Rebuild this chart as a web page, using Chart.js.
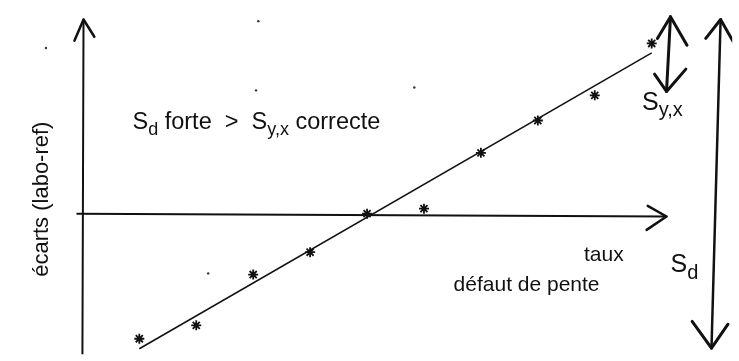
<!DOCTYPE html>
<html>
<head>
<meta charset="utf-8">
<script src="https://cdn.jsdelivr.net/npm/chart.js@4"></script>
<style>
  html, body { margin: 0; padding: 0; background: #fff; }
  #wrap { width: 739px; height: 361px; }
</style>
</head>
<body>
<div id="wrap"><canvas id="c" width="739" height="361"></canvas></div>
<script>
// ---- data ----
const taux = [1, 2, 3, 4, 5, 6, 7, 8, 9, 10];
const ecarts = [-2.24, -2.00, -1.09, -0.69, 0.00, 0.09, 1.09, 1.67, 2.12, 3.05];
const fitX = [1.0, 10.0];
const fitY = [-2.42, 2.88];
const specksX = [-0.64, 3.09, 3.05, 5.83, 2.21];
const specksY = [2.97, 3.45, 2.21, 2.26, -1.07];
const yAxisTitle = 'écarts (labo-ref)';
const xAxisTitle = 'taux';
const captionTop = [['S', false], ['d', true], [' forte  >  ', false], ['S', false], ['y,x', true], [' correcte', false]];
const captionBottom = 'défaut de pente';
const labelSyx = [['S', false], ['y,x', true]];
const labelSd = [['S', false], ['d', true]];

// ---- drawing helpers (geometry in data units) ----
const INK = '#111';
const pts = (xs, ys) => xs.map((x, i) => ({ x, y: ys[i] }));
const seg = (coords, width) => ({
  type: 'line', data: coords.map(c => ({ x: c[0], y: c[1] })),
  borderColor: INK, borderWidth: width, pointRadius: 0, showLine: true,
  fill: false, tension: 0, borderCapStyle: 'round', borderJoinStyle: 'round'
});

const datasets = [
  // axes with arrowheads
  seg([[0, -2.7], [0.02, 3.48]], 2),
  seg([[-0.14, 3.1], [0.02, 3.48], [0.21, 3.17]], 2.5),
  seg([[-0.09, 0], [10.26, -0.05]], 2),
  seg([[9.93, 0.14], [10.26, -0.05], [9.91, -0.29]], 2.5),
  // S y,x double arrow
  seg([[10.33, 3.53], [10.26, 2.19]], 3),
  seg([[10.10, 3.14], [10.33, 3.53], [10.62, 3.02]], 3),
  seg([[10.05, 2.5], [10.26, 2.19], [10.60, 2.59]], 3),
  // S d double arrow
  seg([[11.21, 3.48], [11.05, -2.41]], 2.5),
  seg([[10.95, 3.14], [11.21, 3.48], [11.45, 3.05]], 3),
  seg([[10.71, -1.93], [11.05, -2.41], [11.34, -1.98]], 3),
  // fitted line
  { type: 'line', data: pts(fitX, fitY), borderColor: INK, borderWidth: 1.5, pointRadius: 0, showLine: true, fill: false },
  // observations
  { type: 'scatter', data: pts(taux, ecarts), pointStyle: 'star', pointRadius: 5, borderColor: INK, borderWidth: 1.8, backgroundColor: INK },
  // scan specks
  { type: 'scatter', data: pts(specksX, specksY), pointStyle: 'circle', pointRadius: 1.2, borderWidth: 0, backgroundColor: '#333' }
];

const FONT = '"Liberation Sans", Arial, sans-serif';
function drawRuns(ctx, runs, x, y, size, subScale) {
  let cx = x;
  for (const [t, sub] of runs) {
    const s = sub ? Math.round(size * subScale) : size;
    ctx.font = s + 'px ' + FONT;
    ctx.fillText(t, cx, sub ? y + size * 0.25 : y);
    cx += ctx.measureText(t).width;
  }
}

const textPlugin = {
  id: 'texts',
  afterDatasetsDraw(chart) {
    const { ctx, scales: { x, y } } = chart;
    const P = (a, b) => [x.getPixelForValue(a), y.getPixelForValue(b)];
    ctx.save();
    ctx.fillStyle = INK;
    ctx.textBaseline = 'alphabetic';
    ctx.textAlign = 'left';
    let p = P(0.88, 1.52); drawRuns(ctx, captionTop, p[0], p[1], 23.5, 0.78);
    p = P(8.81, -0.845); drawRuns(ctx, [[xAxisTitle, false]], p[0], p[1], 21, 1);
    p = P(6.52, -1.38); drawRuns(ctx, [[captionBottom, false]], p[0], p[1], 21, 1);
    p = P(9.83, 1.86); drawRuns(ctx, labelSyx, p[0], p[1], 25, 0.8);
    p = P(10.33, -1.05); drawRuns(ctx, labelSd, p[0], p[1], 25, 0.8);
    // rotated y title
    p = P(-0.71, 0.26);
    ctx.translate(p[0], p[1]);
    ctx.rotate(-Math.PI / 2);
    ctx.textAlign = 'center';
    ctx.textBaseline = 'middle';
    ctx.font = '22px ' + FONT;
    ctx.fillText(yAxisTitle, 0, 0);
    ctx.restore();
  }
};

new Chart(document.getElementById('c'), {
  type: 'scatter',
  data: { datasets },
  options: {
    responsive: false,
    animation: false,
    layout: { padding: 0 },
    plugins: { legend: { display: false }, tooltip: { enabled: false } },
    scales: {
      x: { type: 'linear', display: false, min: -77 / 58, max: (739 - 77) / 58 },
      y: { type: 'linear', display: false, min: (215 - 361) / 58, max: 215 / 58 }
    }
  },
  plugins: [textPlugin]
});
</script>
</body>
</html>
